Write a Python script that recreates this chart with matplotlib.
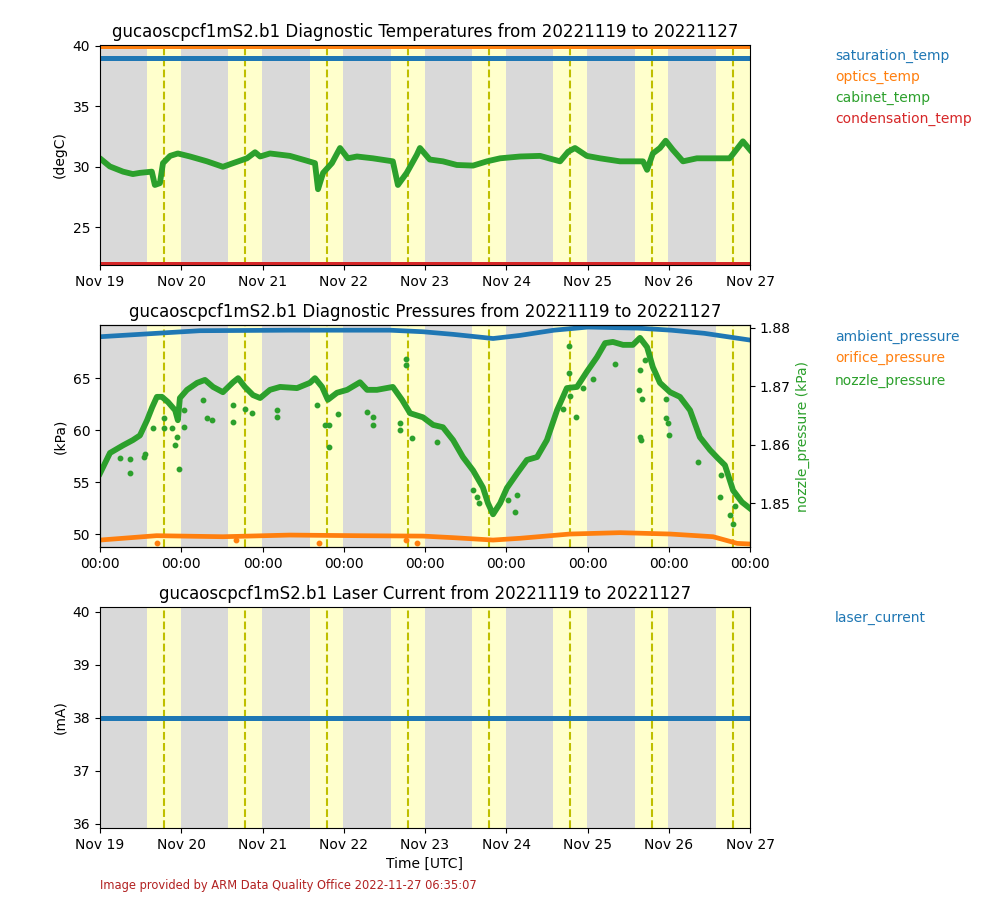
import numpy as np
import matplotlib
matplotlib.use("Agg")
import matplotlib.pyplot as plt
import matplotlib.dates as mdates
from datetime import datetime, timedelta

START = datetime(2022, 11, 19)
END = datetime(2022, 11, 27)
TITLE_BASE = "gucaoscpcf1mS2.b1"

# day / night shading (hours UTC on each day)
sunrise_h = [13.95, 13.85, 13.9, 13.9, 13.9, 13.95, 13.9, 13.9]
noon_h = [18.9, 18.9, 18.95, 18.95, 18.95, 18.9, 18.95, 18.95]
sunset_h = [23.95, 23.85, 23.85, 23.9, 23.9, 23.85, 23.85, 24.0]

# temperatures (degC)
temp_h = [0.5, 2.9, 6.8, 9.7, 11.8, 15.3, 16.2, 17.7, 18.6, 20.7, 23.0, 26.6, 31.6,
          36.3, 39.3, 43.4, 45.8, 47.3, 50.2, 56.1, 61.1, 63.5, 64.4, 65.9, 68.5, 70.9,
          73.2, 75.9, 80.6, 86.5, 88.0, 90.6, 93.6, 94.5, 94.5, 97.4, 101.3, 105.4, 110.2,
          114.3, 118.2, 124.1, 130.0, 135.9, 138.3, 140.3, 143.8, 147.7, 153.6, 160.4,
          161.6, 163.3, 165.4, 167.1, 169.2, 172.2, 176.3, 183.1, 186.0, 189.9, 192.0]
cabinet_temp = [30.58, 30.03, 29.6, 29.4, 29.5, 29.6, 28.5, 28.65, 30.3, 30.9, 31.1, 30.85,
                30.45, 30.0, 30.3, 30.7, 31.2, 30.85, 31.1, 30.9, 30.5, 30.3, 28.15, 29.5,
                30.3, 31.55, 30.7, 30.85, 30.7, 30.45, 28.5, 29.5, 31.0, 31.55, 31.55, 30.6,
                30.45, 30.15, 30.1, 30.45, 30.7, 30.85, 30.9, 30.45, 31.25, 31.55, 30.9, 30.7,
                30.45, 30.45, 29.75, 31.1, 31.55, 32.15, 31.4, 30.45, 30.7, 30.7, 30.7, 32.1, 31.4]
saturation_temp = 39.0
optics_temp = 40.0
condensation_temp = 21.95

# pressures (kPa)
amb_h = [0, 16.7, 29.5, 56.1, 85.6, 95.4, 104.3, 116.1, 124.1, 134.1, 144.1, 158.9, 168.7, 178.5, 192.0]
ambient_pressure = [68.97, 69.3, 69.55, 69.6, 69.6, 69.45, 69.2, 68.8, 69.1, 69.6, 69.9, 69.8,
                    69.6, 69.3, 68.65]
orif_h = [0, 16.7, 36.3, 56.1, 75.9, 95.4, 104.3, 116.1, 124.1, 138.8, 153.6, 168.4, 181.1, 188.2, 192.0]
orifice_pressure = [49.42, 49.84, 49.74, 49.9, 49.84, 49.8, 49.65, 49.42, 49.59, 50.0, 50.13,
                    50.0, 49.74, 49.1, 49.04]
orif_out_h = [16.7, 40.1, 64.7, 90.4, 93.6]
orif_out = [49.16, 49.4, 49.16, 49.4, 49.16]

noz_h = [0, 2.95, 6.8, 9.7, 11.8, 13.9, 15.4, 16.8, 18.3, 20.1, 22.2, 23.0, 23.6, 25.7,
         28.7, 31.0, 33.4, 36.3, 39.3, 40.8, 42.8, 45.2, 47.3, 50.2, 53.2, 58.2, 62.0,
         63.5, 65.6, 67.3, 70.0, 73.0, 76.8, 78.9, 81.8, 86.5, 89.2, 91.6, 95.4, 98.4,
         101.3, 104.3, 107.2, 110.2, 113.1, 114.6, 116.1, 118.2, 120.2, 123.2, 126.1,
         129.1, 132.0, 135.0, 137.9, 140.9, 143.8, 146.8, 149.2, 151.5, 154.5, 157.4,
         159.5, 161.6, 163.3, 165.4, 168.4, 171.3, 174.3, 177.2, 180.2, 182.5, 184.6,
         187.0, 189.6, 192.0]
nozzle_pressure = [1.8551, 1.8586, 1.8599, 1.8608, 1.8616, 1.8642, 1.8664, 1.8682, 1.8682,
                   1.8673, 1.8659, 1.8642, 1.8680, 1.8694, 1.8706, 1.8711, 1.8699, 1.8690,
                   1.8707, 1.8714, 1.8699, 1.8685, 1.8680, 1.8694, 1.8699, 1.8697, 1.8706,
                   1.8714, 1.8699, 1.8677, 1.8689, 1.8694, 1.8707, 1.8694, 1.8694, 1.8699,
                   1.8677, 1.8654, 1.8647, 1.8634, 1.8630, 1.8608, 1.8579, 1.8556, 1.8527,
                   1.8500, 1.8481, 1.8500, 1.8526, 1.8551, 1.8574, 1.8579, 1.8608, 1.8659,
                   1.8697, 1.8699, 1.8725, 1.8750, 1.8774, 1.8776, 1.8771, 1.8771, 1.8783,
                   1.8767, 1.8733, 1.8706, 1.8690, 1.8682, 1.8659, 1.8613, 1.8591, 1.8577,
                   1.8565, 1.8522, 1.8502, 1.8491]
noz_out_h = [5.9, 8.9, 8.9, 13.0, 13.3, 15.7, 18.9, 18.9, 21.2, 22.2, 23.4, 22.7, 24.9, 24.9,
             30.5, 31.5, 33.0, 39.2, 39.4, 42.8, 44.8, 52.4, 52.4, 64.2, 66.5, 67.7, 67.7,
             70.4, 79.0, 80.6, 80.6, 88.6, 88.6, 90.4, 90.4, 92.1, 99.5, 110.3, 112.0, 111.3,
             120.6, 122.6, 123.1, 136.9, 140.5, 142.8, 145.7, 138.6, 138.6, 138.8, 152.1,
             159.5, 159.8, 159.3, 159.5, 160.0, 161.0, 167.1, 167.1, 167.9, 168.2, 176.7,
             183.1, 183.4, 186.1, 186.9, 187.6]
noz_out = [1.8577, 1.8575, 1.8552, 1.8579, 1.8585, 1.8628, 1.8645, 1.8628, 1.8628, 1.8599,
           1.8558, 1.8614, 1.8631, 1.8659, 1.8677, 1.8645, 1.8642, 1.8639, 1.8668, 1.8662,
           1.8654, 1.8659, 1.8648, 1.8668, 1.8634, 1.8596, 1.8634, 1.8652, 1.8656, 1.8634,
           1.8648, 1.8625, 1.8637, 1.8746, 1.8737, 1.8611, 1.8605, 1.8522, 1.8501, 1.8511,
           1.8505, 1.8485, 1.8514, 1.8661, 1.8648, 1.8697, 1.8712, 1.8769, 1.8722, 1.8683,
           1.8739, 1.8614, 1.8608, 1.8694, 1.8728, 1.8679, 1.8745, 1.8679, 1.8645, 1.8637,
           1.8616, 1.8571, 1.8511, 1.8548, 1.8479, 1.8465, 1.8496]

# laser current (mA)
laser_current = 38.0

C_BLUE, C_ORANGE, C_GREEN, C_RED = "#1f77b4", "#ff7f0e", "#2ca02c", "#d62728"


def to_dates(hours):
    return [START + timedelta(hours=h) for h in hours]


def shade_days(ax):
    ax.axvspan(START, END, color="#d9d9d9", zorder=0, lw=0)
    for d in range(len(sunrise_h)):
        day = START + timedelta(days=d)
        ax.axvspan(day + timedelta(hours=sunrise_h[d]), day + timedelta(hours=sunset_h[d]),
                   color="#ffffcc", zorder=0.5, lw=0)
        ax.axvline(day + timedelta(hours=noon_h[d]), color="y", ls="--", lw=1.5, zorder=0.6)
    ax.set_xlim(START, END)


def day_ticks(ax, fmt):
    ax.xaxis.set_major_locator(mdates.DayLocator())
    ax.xaxis.set_major_formatter(mdates.DateFormatter(fmt))


fig = plt.figure(figsize=(10, 9), dpi=100)
rng = f"from {START:%Y%m%d} to {END:%Y%m%d}"

# ---- temperatures
ax1 = fig.add_axes([0.1, 0.7056, 0.65, 0.2444])
shade_days(ax1)
ax1.axhline(saturation_temp, color=C_BLUE, lw=3.6)
ax1.axhline(optics_temp, color=C_ORANGE, lw=3.6)
ax1.plot(to_dates(temp_h), cabinet_temp, color=C_GREEN, lw=4.2)
ax1.axhline(condensation_temp, color=C_RED, lw=3.6)
ax1.set_ylim(21.9, 40.05)
ax1.set_yticks([25, 30, 35, 40])
ax1.set_ylabel("(degC)")
ax1.set_title(f"{TITLE_BASE} Diagnostic Temperatures {rng}", fontsize=12)
day_ticks(ax1, "%b %d")
for i, (name, c) in enumerate([("saturation_temp", C_BLUE), ("optics_temp", C_ORANGE),
                               ("cabinet_temp", C_GREEN), ("condensation_temp", C_RED)]):
    fig.text(0.835, 1 - (56 + 21 * i) / 900, name, color=c, fontsize=10, va="center")

# ---- pressures
ax2 = fig.add_axes([0.1, 0.3922, 0.65, 0.2467])
shade_days(ax2)
ax2.plot(to_dates(amb_h), ambient_pressure, color=C_BLUE, lw=3.4)
ax2.plot(to_dates(orif_h), orifice_pressure, color=C_ORANGE, lw=3.4)
ax2.plot(to_dates(orif_out_h), orif_out, "o", color=C_ORANGE, ms=3.2)
ax2.set_ylim(48.75, 70.1)
ax2.set_yticks([50, 55, 60, 65])
ax2.set_ylabel("(kPa)")
ax2.set_title(f"{TITLE_BASE} Diagnostic Pressures {rng}", fontsize=12)
day_ticks(ax2, "%H:%M")
ax2r = ax2.twinx()
ax2r.plot(to_dates(noz_h), nozzle_pressure, color=C_GREEN, lw=4.2)
ax2r.plot(to_dates(noz_out_h), noz_out, "o", color=C_GREEN, ms=3.2)
ax2r.set_ylim(1.8425, 1.8805)
ax2r.set_yticks([1.85, 1.86, 1.87, 1.88])
ax2r.set_ylabel("nozzle_pressure (kPa)", color=C_GREEN)
ax2r.set_xlim(START, END)
for name, c, y in [("ambient_pressure", C_BLUE, 337), ("orifice_pressure", C_ORANGE, 358),
                   ("nozzle_pressure", C_GREEN, 381)]:
    fig.text(0.835, 1 - y / 900, name, color=c, fontsize=10, va="center")

# ---- laser current
ax3 = fig.add_axes([0.1, 0.08, 0.65, 0.2456])
shade_days(ax3)
ax3.axhline(laser_current, color=C_BLUE, lw=3.6)
ax3.set_ylim(35.92, 40.09)
ax3.set_yticks([36, 37, 38, 39, 40])
ax3.set_ylabel("(mA)")
ax3.set_xlabel("Time [UTC]")
ax3.set_title(f"{TITLE_BASE} Laser Current {rng}", fontsize=12)
day_ticks(ax3, "%b %d")
fig.text(0.835, 1 - 618 / 900, "laser_current", color=C_BLUE, fontsize=10, va="center")

fig.text(0.1, 1 - 886 / 900, "Image provided by ARM Data Quality Office 2022-11-27 06:35:07",
         color="#b22222", fontsize=8.3, va="center")

fig.savefig("out.png", dpi=100)
